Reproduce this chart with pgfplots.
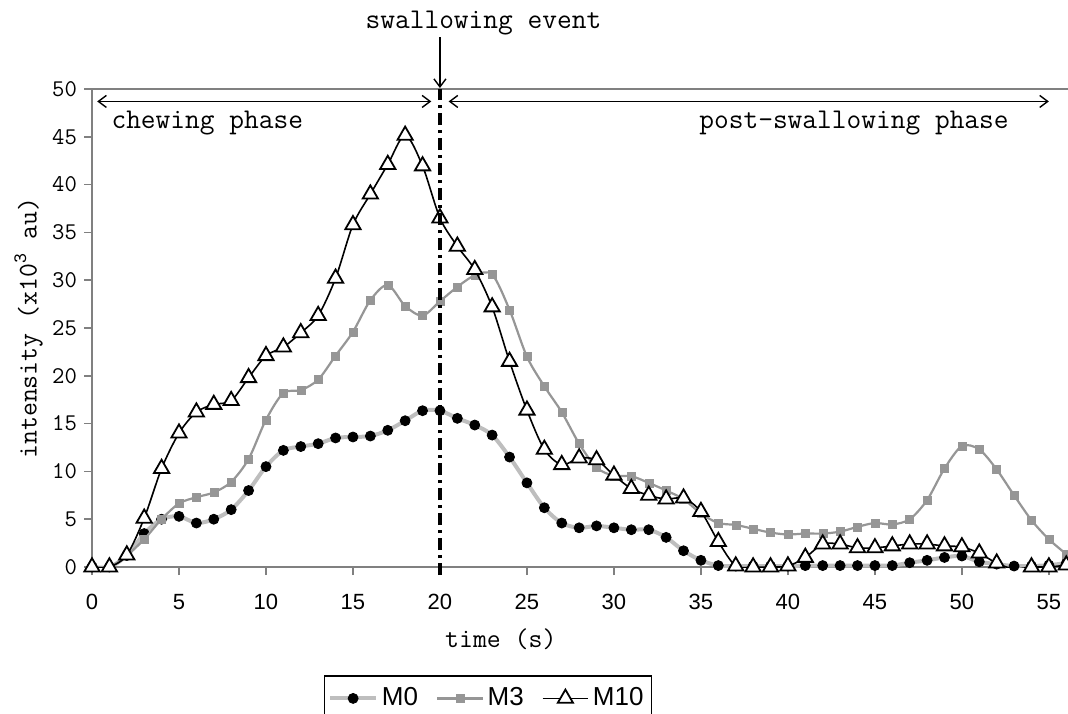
\documentclass[border=0pt]{standalone}
\usepackage{fontspec}
\setmainfont{Liberation Sans}
\usepackage{pgfplots}
\usepackage{pgfplotstable}
\pgfplotsset{compat=1.18}
\usetikzlibrary{arrows.meta}

\definecolor{axisgray}{RGB}{128,128,128}
\definecolor{mzero}{RGB}{190,190,190}
\definecolor{mthree}{RGB}{150,150,150}

% intensity (x10^3 au) per second
\pgfplotstableread{
t  m0    m3    m10
0  0     0     0
1  0     0     0
2  1.2   1.2   1.25
3  3.5   2.9   5.1
4  5.0   5.0   10.3
5  5.3   6.65  14.0
6  4.6   7.3   16.2
7  5.0   7.8   17.0
8  6.0   8.9   17.4
9  8.0   11.3  19.8
10 10.5  15.4  22.1
11 12.2  18.2  23.0
12 12.6  18.5  24.5
13 12.9  19.6  26.3
14 13.5  22.1  30.2
15 13.6  24.6  35.8
16 13.7  27.9  39.0
17 14.3  29.5  42.1
18 15.3  27.3  45.15
19 16.35 26.3  41.95
20 16.35 27.8  36.5
21 15.55 29.3  33.55
22 14.85 30.5  31.1
23 13.8  30.6  27.2
24 11.5  26.9  21.5
25 8.8   22.0  16.4
26 6.2   18.9  12.3
27 4.6   16.2  10.7
28 4.1   12.9  11.4
29 4.3   10.4  11.2
30 4.1   9.55  9.6
31 3.9   9.5   8.2
32 3.9   8.8   7.5
33 3.1   8.0   7.1
34 1.7   7.1   7.2
35 0.7   5.6   5.8
36 0.15  4.6   2.65
37 0.1   4.4   0.1
38 0.1   4.0   0
39 0.1   3.6   0
40 0.1   3.4   0.1
41 0.15  3.5   1.0
42 0.15  3.5   2.4
43 0.15  3.7   2.4
44 0.15  4.2   2.0
45 0.15  4.6   2.0
46 0.15  4.45  2.2
47 0.45  5.0   2.4
48 0.7   7.0   2.4
49 1.0   10.3  2.2
50 1.15  12.65 2.1
51 0.55  12.3  1.45
52 0.3   10.2  0.4
53 0.1   7.5   -0.2
54 0.1   4.9   0
55 0.2   2.9   0
56 0.4   1.35  0.2
}\datatab

\begin{document}
\begin{tikzpicture}
\begin{axis}[
  at={(0,0)}, anchor=south west,
  scale only axis, width=488pt, height=239pt,
  xmin=0, xmax=56.1, ymin=0, ymax=50,
  axis lines=left,
  axis line style={-, draw=axisgray, line width=1pt},
  every outer x axis line/.append style={-},
  every outer y axis line/.append style={-},
  xtick={0,5,...,55}, ytick={0,5,...,50},
  tick align=outside, major tick length=4pt,
  tick style={axisgray, line width=0.8pt},
  /pgf/number format/assume math mode=true,
  xticklabel style={font=\fontsize{11}{11}\selectfont, yshift=-6pt},
  yticklabel={\ttfamily\fontsize{12}{12}\selectfont\pgfmathprintnumber{\tick}},
  yticklabel style={font=\ttfamily\fontsize{12}{12}\selectfont},
  clip mode=individual,
  legend style={at={(0.4057,-0.226)}, anchor=north, draw=black, line width=0.8pt,
    font=\fontsize{13}{13}\selectfont, legend columns=3,
    /tikz/every even column/.append style={column sep=7pt},
    inner xsep=2pt, inner ysep=4pt},
  legend image code/.code={\draw[mark repeat=2,mark phase=2,#1] plot coordinates {(0cm,0cm) (0.4cm,0cm) (0.8cm,0cm)};},
]
\addplot[color=mzero, line width=2pt, smooth, mark=*, mark size=2.5pt,
  mark options={draw=black, fill=black, line width=0.4pt}] table[x=t,y=m0] {\datatab};
\addlegendentry{M0}
\addplot[color=mthree, line width=1.1pt, smooth, mark=square*, mark size=2pt,
  mark options={draw=mthree, fill=mthree, line width=0.2pt}] table[x=t,y=m3] {\datatab};
\addlegendentry{M3}
\addplot[color=black, line width=0.8pt, smooth, mark=triangle*, mark size=4.4pt,
  mark options={draw=black, fill=white, line width=0.9pt}] table[x=t,y=m10] {\datatab};
\addlegendentry{M10}

\draw[axisgray, line width=1pt] (axis cs:0,50) -- (axis cs:56.1,50);
\draw[black, line width=1.6pt, dash pattern=on 6pt off 2.5pt on 1.5pt off 2.5pt]
  (axis cs:20,-0.85) -- (axis cs:20,50);
\draw[{Straight Barb[length=4pt,width=6pt]}-{Straight Barb[length=4pt,width=6pt]}, line width=0.7pt]
  (axis cs:0.3,48.7) -- (axis cs:19.5,48.7);
\draw[{Straight Barb[length=4pt,width=6pt]}-{Straight Barb[length=4pt,width=6pt]}, line width=0.7pt]
  (axis cs:20.5,48.7) -- (axis cs:55.0,48.7);
\draw[-{Straight Barb[length=4pt,width=6pt]}, line width=0.7pt]
  (axis cs:20,55.4) -- (axis cs:20,50.1);

\node[font=\ttfamily\fontsize{14.3}{14.3}\selectfont, anchor=west, inner sep=0]
  at (axis cs:1.1,46.4) {chewing phase};
\node[font=\ttfamily\fontsize{14.3}{14.3}\selectfont, inner sep=0]
  at (axis cs:43.8,46.4) {post-swallowing phase};
\node[font=\ttfamily\fontsize{14.3}{14.3}\selectfont, inner sep=0]
  at (axis cs:22.5,56.9) {swallowing event};
\node[font=\ttfamily\fontsize{13.5}{13.5}\selectfont, inner sep=0]
  at (axis cs:23.5,-7.6) {time (s)};
\node[font=\ttfamily\fontsize{13.5}{13.5}\selectfont, inner sep=0, rotate=90]
  at (rel axis cs:-0.065,0.5) {intensity (x10\textsuperscript{3} au)};
\end{axis}
\pgfresetboundingbox
\useasboundingbox (-46pt,-73pt) rectangle (488pt,283.5pt);
\end{tikzpicture}
\end{document}
